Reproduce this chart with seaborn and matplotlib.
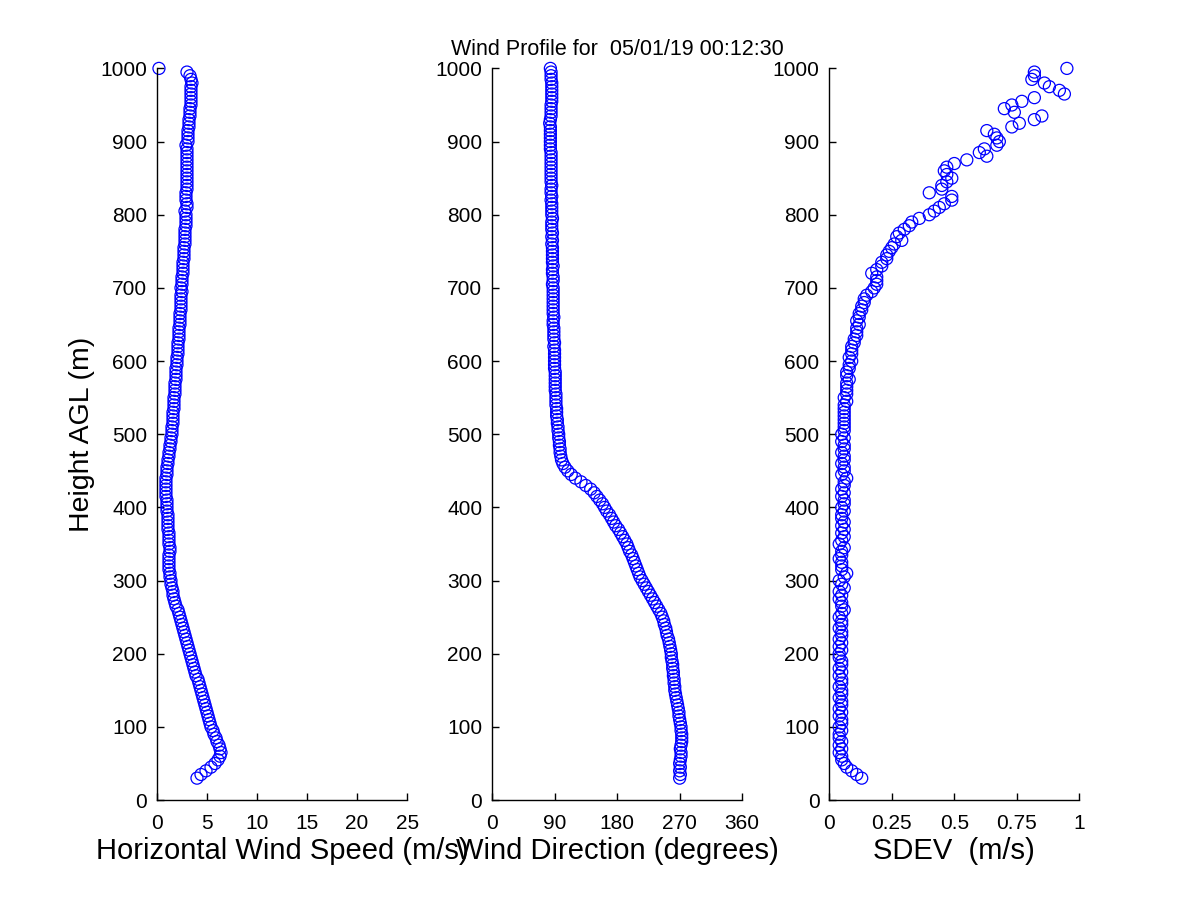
import matplotlib
matplotlib.use("Agg")
import matplotlib.pyplot as plt
import seaborn as sns
import pandas as pd

# ---- data ----
heights = list(range(30, 1001, 5))  # range gates (m AGL)

speed = [
    4.0, 4.4, 4.9, 5.4, 5.8, 6.1, 6.3, 6.4, 6.3, 6.2,
    6.0, 5.9, 5.7, 5.6, 5.4, 5.3, 5.2, 5.1, 5.0, 4.9,
    4.8, 4.7, 4.6, 4.5, 4.4, 4.3, 4.2, 4.1, 3.9, 3.8,
    3.7, 3.6, 3.5, 3.4, 3.3, 3.2, 3.1, 3.0, 2.9, 2.8,
    2.7, 2.6, 2.5, 2.4, 2.3, 2.2, 2.1, 1.9, 1.8, 1.7,
    1.6, 1.6, 1.5, 1.4, 1.4, 1.3, 1.3, 1.2, 1.2, 1.2,
    1.2, 1.2, 1.3, 1.3, 1.2, 1.2, 1.2, 1.2, 1.1, 1.1,
    1.1, 1.1, 1.1, 1.0, 1.0, 1.0, 1.0, 0.9, 0.9, 0.9,
    0.9, 0.9, 0.9, 1.0, 1.0, 1.0, 1.1, 1.1, 1.2, 1.2,
    1.3, 1.3, 1.4, 1.4, 1.5, 1.5, 1.5, 1.6, 1.6, 1.6,
    1.6, 1.7, 1.7, 1.7, 1.7, 1.8, 1.8, 1.8, 1.8, 1.9,
    1.9, 1.9, 1.9, 2.0, 2.0, 2.0, 2.1, 2.1, 2.1, 2.1,
    2.2, 2.2, 2.2, 2.2, 2.3, 2.3, 2.3, 2.3, 2.4, 2.4,
    2.4, 2.4, 2.4, 2.5, 2.4, 2.5, 2.5, 2.5, 2.6, 2.6,
    2.6, 2.6, 2.7, 2.7, 2.7, 2.7, 2.8, 2.8, 2.8, 2.8,
    2.8, 2.9, 2.9, 2.9, 2.9, 2.8, 3.0, 3.0, 2.9, 2.9,
    2.9, 3.0, 3.0, 3.0, 3.0, 3.0, 3.0, 3.0, 3.0, 3.0,
    3.0, 3.0, 3.0, 2.9, 3.1, 3.1, 3.1, 3.1, 3.2, 3.2,
    3.2, 3.3, 3.3, 3.3, 3.4, 3.4, 3.4, 3.4, 3.4, 3.4,
    3.5, 3.4, 3.3, 3.0, 0.2,
]

direction = [
    270, 271, 270, 271, 270, 271, 272, 272, 271, 272,
    273, 273, 273, 272, 272, 271, 270, 269, 269, 268,
    267, 266, 265, 264, 263, 263, 262, 262, 261, 261,
    260, 260, 259, 258, 258, 257, 256, 255, 254, 252,
    251, 250, 248, 247, 245, 243, 240, 237, 234, 231,
    228, 225, 222, 219, 216, 213, 211, 209, 207, 205,
    203, 201, 198, 196, 194, 191, 188, 185, 182, 178,
    175, 172, 169, 165, 162, 159, 155, 151, 147, 142,
    135, 128, 120, 114, 109, 105, 102, 100, 99, 98,
    98, 97, 97, 96, 96, 95, 95, 94, 94, 93,
    93, 93, 92, 92, 92, 92, 91, 91, 91, 91,
    91, 91, 90, 90, 90, 90, 90, 90, 89, 90,
    89, 89, 89, 89, 88, 88, 89, 88, 88, 88,
    88, 88, 88, 88, 88, 87, 88, 88, 87, 87,
    88, 87, 87, 87, 87, 87, 86, 87, 86, 87,
    86, 86, 86, 87, 86, 86, 86, 86, 85, 86,
    85, 85, 86, 85, 85, 85, 85, 85, 85, 85,
    85, 85, 84, 84, 84, 84, 84, 84, 84, 83,
    84, 85, 85, 85, 85, 86, 86, 86, 86, 86,
    86, 85, 85, 85, 84,
]

sdev = [
    0.13, 0.11, 0.09, 0.07, 0.06, 0.05, 0.05, 0.04, 0.05, 0.04,
    0.05, 0.04, 0.04, 0.05, 0.04, 0.05, 0.05, 0.04, 0.05, 0.04,
    0.05, 0.05, 0.04, 0.05, 0.05, 0.04, 0.05, 0.05, 0.04, 0.05,
    0.04, 0.05, 0.05, 0.04, 0.04, 0.05, 0.04, 0.05, 0.04, 0.05,
    0.05, 0.04, 0.05, 0.05, 0.04, 0.05, 0.06, 0.05, 0.05, 0.04,
    0.05, 0.04, 0.06, 0.05, 0.04, 0.06, 0.07, 0.05, 0.05, 0.05,
    0.04, 0.05, 0.05, 0.06, 0.04, 0.05, 0.06, 0.05, 0.06, 0.05,
    0.06, 0.05, 0.05, 0.06, 0.05, 0.06, 0.06, 0.05, 0.06, 0.05,
    0.06, 0.06, 0.07, 0.05, 0.06, 0.06, 0.05, 0.06, 0.06, 0.05,
    0.06, 0.06, 0.05, 0.06, 0.05, 0.06, 0.06, 0.06, 0.06, 0.06,
    0.06, 0.06, 0.06, 0.07, 0.06, 0.07, 0.07, 0.07, 0.07, 0.08,
    0.07, 0.07, 0.08, 0.08, 0.09, 0.08, 0.09, 0.09, 0.09, 0.10,
    0.10, 0.11, 0.11, 0.11, 0.12, 0.11, 0.12, 0.12, 0.13, 0.13,
    0.14, 0.14, 0.15, 0.17, 0.18, 0.19, 0.19, 0.19, 0.17, 0.19,
    0.21, 0.21, 0.23, 0.23, 0.24, 0.25, 0.26, 0.29, 0.27, 0.28,
    0.30, 0.32, 0.33, 0.36, 0.40, 0.42, 0.44, 0.46, 0.49, 0.49,
    0.40, 0.45, 0.45, 0.47, 0.49, 0.47, 0.46, 0.47, 0.50, 0.55,
    0.63, 0.60, 0.62, 0.67, 0.68, 0.67, 0.66, 0.63, 0.73, 0.76,
    0.82, 0.85, 0.74, 0.70, 0.73, 0.77, 0.82, 0.94, 0.92, 0.88,
    0.86, 0.81, 0.82, 0.82, 0.95,
]

title_text = "Wind Profile for  05/01/19 00:12:30"
y_label = "Height AGL (m)"
x_labels = ["Horizontal Wind Speed (m/s)", "Wind Direction (degrees)", "SDEV  (m/s)"]
y_ticks = list(range(0, 1001, 100))
x_ticks = [[0, 5, 10, 15, 20, 25], [0, 90, 180, 270, 360], [0, 0.25, 0.5, 0.75, 1]]
x_ticklabels = [["0", "5", "10", "15", "20", "25"],
                ["0", "90", "180", "270", "360"],
                ["0", "0.25", "0.5", "0.75", "1"]]
x_limits = [(0, 25), (0, 360), (0, 1)]

df = pd.DataFrame({"height": heights, "speed": speed,
                   "direction": direction, "sdev": sdev})

# ---- style ----
sns.set_style("ticks")
plt.rcParams["font.family"] = ["Liberation Sans", "DejaVu Sans"]
plt.rcParams["xtick.direction"] = "in"
plt.rcParams["ytick.direction"] = "in"
plt.rcParams["axes.linewidth"] = 1.0
plt.rcParams["text.color"] = "black"
plt.rcParams["axes.labelcolor"] = "black"
plt.rcParams["axes.edgecolor"] = "black"
plt.rcParams["xtick.color"] = "black"
plt.rcParams["ytick.color"] = "black"

fig = plt.figure(figsize=(12, 9), dpi=100)
lefts = [0.1308, 0.410, 0.691]
width = 0.2085
bottom, height = 0.111, 0.813

cols = ["speed", "direction", "sdev"]
for i, col in enumerate(cols):
    ax = fig.add_axes([lefts[i], bottom, width, height])
    sns.scatterplot(data=df, x=col, y="height", ax=ax, marker="o", s=75,
                    facecolors="none", edgecolors="#0000ff", linewidths=0.9,
                    clip_on=False, legend=False)
    ax.set_xlim(*x_limits[i])
    ax.set_ylim(0, 1000)
    ax.set_xticks(x_ticks[i])
    ax.set_xticklabels(x_ticklabels[i])
    ax.set_yticks(y_ticks)
    ax.tick_params(axis="both", labelsize=15, length=5, width=1,
                   color="black", labelcolor="black")
    ax.tick_params(axis="x", pad=10)
    ax.tick_params(axis="y", pad=7)
    ax.set_xlabel(x_labels[i], fontsize=21, labelpad=3)
    if i == 0:
        ax.set_ylabel(y_label, fontsize=20.5, labelpad=4)
    else:
        ax.set_ylabel("")
    if i == 1:
        ax.set_title(title_text, fontsize=15.5, pad=10)
    sns.despine(ax=ax)

fig.savefig("out.png", dpi=100, facecolor="white")
